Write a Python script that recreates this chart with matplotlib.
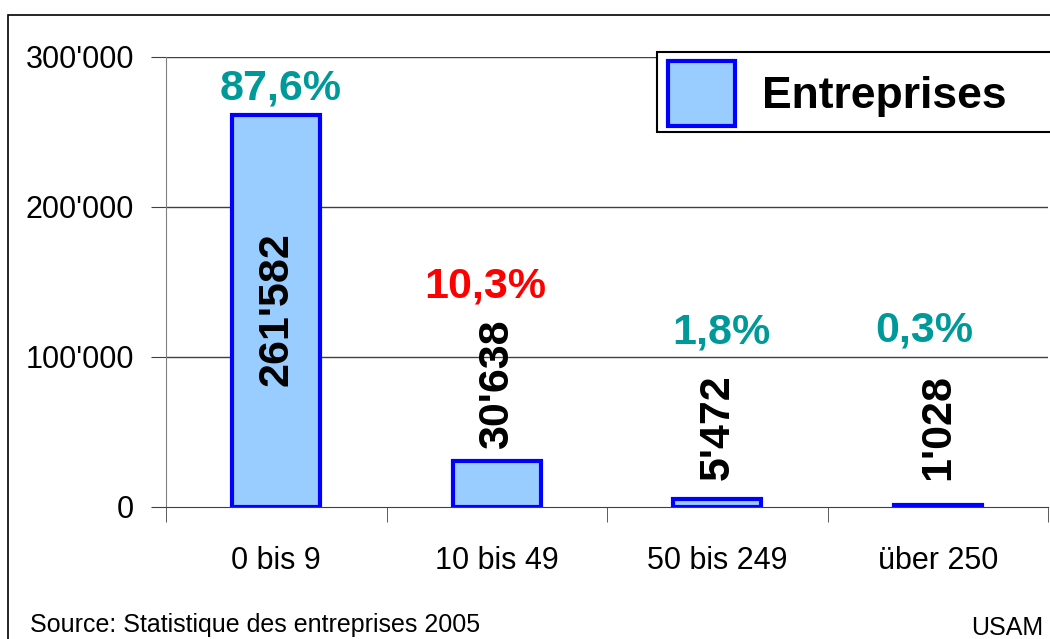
import matplotlib.pyplot as plt
from matplotlib.patches import Rectangle

# data
categories = ['0 bis 9', '10 bis 49', '50 bis 249', 'über 250']
entreprises = [261582, 30638, 5472, 1028]
value_labels = ["261'582", "30'638", "5'472", "1'028"]
pct_labels = ['87,6%', '10,3%', '1,8%', '0,3%']
pct_colors = ['#009999', '#FF0000', '#009999', '#009999']
yticks = [0, 100000, 200000, 300000]
ytick_labels = ['0', "100'000", "200'000", "300'000"]

# label placement (data units)
pct_y = [279000, 147000, 116000, 118000]
pct_dx = [0.02, -0.05, 0.02, -0.06]
val_y = [132000, 82000, 53000, 53000]

plt.rcParams['font.family'] = ['Liberation Sans', 'DejaVu Sans']

fig = plt.figure(figsize=(10.5, 6.39), dpi=100)
ax = fig.add_axes([166/1050, 1-507/639, (1048-166)/1050, 450/639])

x = [i + 0.5 for i in range(len(categories))]
bars = ax.bar(x, entreprises, width=0.4, color='#99CCFF', edgecolor='#0000FF',
              linewidth=3, label='Entreprises', zorder=3)

ax.set_xlim(0, 4)
ax.set_ylim(0, 300000)
ax.set_yticks(yticks)
ax.set_yticklabels(ytick_labels, fontsize=22)
ax.set_xticks(x)
ax.set_xticklabels(categories, fontsize=22)
ax.set_xticks([0, 1, 2, 3, 4], minor=True)
ax.tick_params(axis='x', which='major', length=0, pad=28)
ax.tick_params(axis='x', which='minor', length=11, color='#404040', direction='out')
ax.tick_params(axis='y', length=11, color='#404040', direction='out', pad=12)

for s in ['top', 'right']:
    ax.spines[s].set_visible(False)
ax.spines['left'].set_color('#808080')
ax.spines['bottom'].set_color('#404040')
for v in yticks[1:]:
    ax.axhline(v, color='#404040', linewidth=1, zorder=1)

# labels
for xi, lab, yv in zip(x, value_labels, val_y):
    ax.text(xi, yv, lab, rotation=90, ha='center', va='center',
            fontsize=31, fontweight='bold', color='black', zorder=4)
for xi, lab, c, yv, dx in zip(x, pct_labels, pct_colors, pct_y, pct_dx):
    ax.text(xi + dx, yv, lab, ha='center', va='center',
            fontsize=31, fontweight='bold', color=c, zorder=4)

# legend, box runs off the right edge like the original
fig.patches.append(Rectangle((657/1050, 1-132/639), 0.5, 80/639, transform=fig.transFigure,
                             facecolor='white', edgecolor='black', linewidth=1.5, zorder=5))
leg = fig.legend(loc='upper left', bbox_to_anchor=(664/1050, 1-57/639),
                 prop={'size': 32, 'weight': 'bold'}, frameon=False,
                 handlelength=1.5, handleheight=1.85,
                 handletextpad=0.6, borderpad=0.1, borderaxespad=0)
leg.set_zorder(6)

# outer frame
fig.patches.append(Rectangle((8/1050, -0.1), 1.2, 1-15/639+0.1, transform=fig.transFigure,
                             fill=False, edgecolor='black', linewidth=1.2))

fig.text(30/1050, 1-625/639, 'Source: Statistique des entreprises 2005', fontsize=18,
         va='center', ha='left')
fig.text(1043/1050, 1-628/639, 'USAM', fontsize=18, va='center', ha='right')

fig.savefig('out.png', dpi=100)
